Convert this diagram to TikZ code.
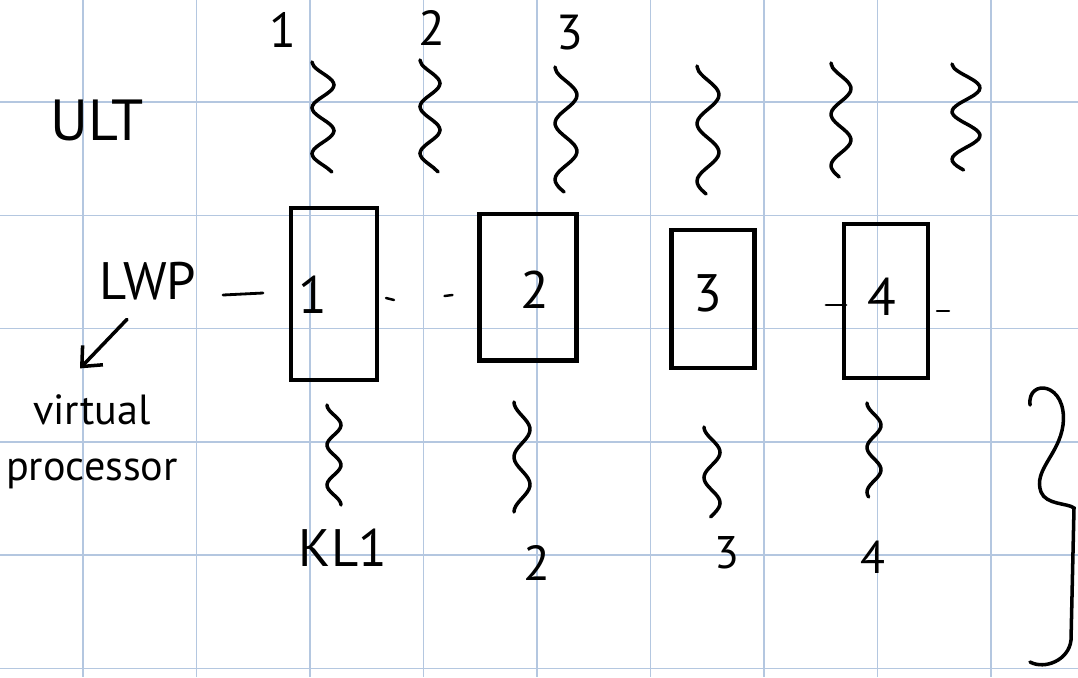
\documentclass[tikz,border=0pt]{standalone}
\usepackage{fontspec}
\setmainfont{PT Sans}
\usetikzlibrary{arrows.meta}
\definecolor{gridblue}{RGB}{180,199,224}
\begin{document}
\begin{tikzpicture}[x=0.02cm,y=-0.02cm,
    thread/.style={line width=2pt,line cap=round,smooth,variable=\t,domain=0:1},
    lwpbox/.style={draw,line width=2.3pt,inner sep=0pt},
    hand/.style={inner sep=0pt,font=\fontsize{#1}{#1}\selectfont},
    hand/.default=28]
    \useasboundingbox[fill=white] (0,0) rectangle (1078,677);
    \foreach \gx in {83,196.5,310,423.5,537,650.5,764,877.5,991}
        \draw[gridblue,line width=0.85pt] (\gx,0) -- (\gx,677);
    \foreach \gy in {102,215.3,328.6,442,555,668.5}
        \draw[gridblue,line width=0.85pt] (0,\gy) -- (1078,\gy);
    \node[hand=28] (t1) at (283,30) {1};
    \node[hand=28] (t2) at (432,28) {2};
    \node[hand=28] (t3) at (570,33) {3};
    \node[hand=33] (ult) at (97,120) {ULT};
    \draw[thread] plot ({323-11*cos(\t*864)},{62+110*\t});
    \draw[thread] plot ({430-10*cos(\t*864)},{60+112*\t});
    \draw[thread] plot ({566-11*cos(\t*800)},{67+125*\t});
    \draw[thread] plot ({708-11*cos(\t*800)},{66+128*\t});
    \draw[thread] plot ({841-10*cos(\t*800)},{63+114*\t});
    \draw[thread] plot ({966-14*cos(\t*800)},{64+106*\t});
    \node[hand=30] (lwp) at (148,281) {LWP};
    \node[hand=24,align=center,font=\fontsize{24}{32}\selectfont] (vp) at (92,442) {virtual\\processor};
    \draw[line width=2pt,line cap=round,-{Straight Barb[length=9pt,width=16pt]}] ([shift={(-21,19)}]lwp.south) -- ([shift={(-12,-26)}]vp.north);
    \node[lwpbox,minimum width=1.72cm,minimum height=3.44cm] (b1) at (334,294) {};
    \node[lwpbox,minimum width=1.94cm,minimum height=2.94cm] (b2) at (528,287) {};
    \node[lwpbox,minimum width=1.66cm,minimum height=2.76cm] (b3) at (713,299) {};
    \node[lwpbox,minimum width=1.68cm,minimum height=3.08cm] (b4) at (886,301) {};
    \node[hand=30] (n1) at (313,295) {1};
    \node[hand=30] (n2) at (535,290) {2};
    \node[hand=30] (n3) at (708,293) {3};
    \node[hand=30] (n4) at (882,297) {4};
    \draw[line width=1.6pt,line cap=round] ([shift={(-66,1)}]b1.west) -- ([shift={(-26,-1)}]b1.west);
    \draw[line width=1.4pt,line cap=round] ([shift={(7,4)}]b1.east) -- ([shift={(15,6)}]b1.east);
    \draw[line width=1.4pt,line cap=round] ([shift={(-33,9)}]b2.west) -- ([shift={(-25,8)}]b2.west);
    \draw[line width=1.6pt,line cap=round] ([shift={(-16,4)}]b4.west) -- ([shift={(4,4)}]b4.west);
    \draw[line width=1.4pt,line cap=round] ([shift={(7,10)}]b4.east) -- ([shift={(19,10)}]b4.east);
    \draw[thread,samples=40] plot ({334-7*cos(\t*900)},{405+100*\t});
    \draw[thread,samples=40] plot ({522-8*cos(\t*720)},{402+110*\t});
    \draw[thread,samples=40] plot ({712-8*cos(\t*640)},{427+90*\t});
    \draw[thread,samples=40] plot ({874-7*cos(\t*760)},{403+94*\t});
    \node[hand=30] (kl1) at (343,548) {KL1};
    \node[hand=28] (kl2) at (537,563) {2};
    \node[hand=26] (kl3) at (727,553) {3};
    \node[hand=26] (kl4) at (873,557) {4};
    \draw[line width=2pt,line cap=round] (1030,405) .. controls (1027,378) and (1068,382) .. (1063,425)
        .. controls (1059,455) and (1033,470) .. (1041,492) .. controls (1046,505) and (1068,503) .. (1074,508)
        -- (1071,640) .. controls (1069,660) and (1045,670) .. (1030,662);
\end{tikzpicture}
\end{document}
